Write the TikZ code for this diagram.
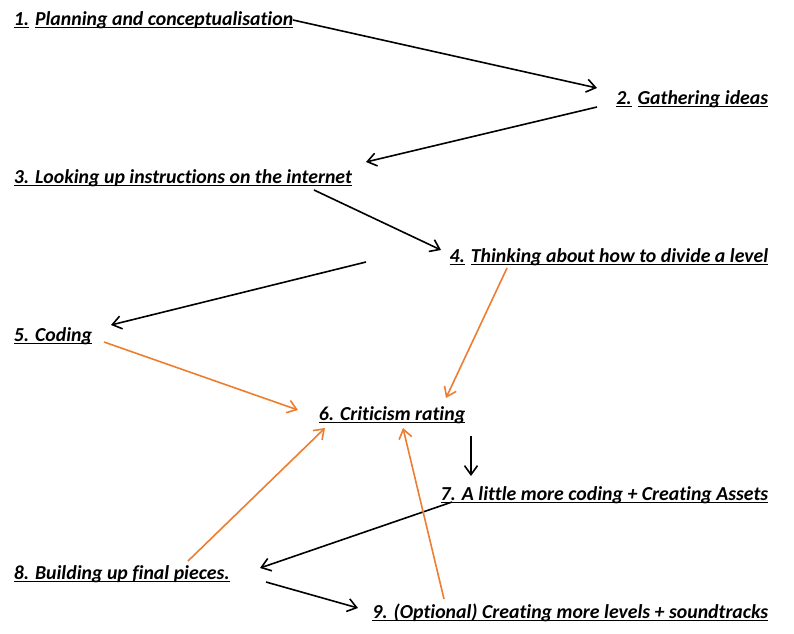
\documentclass[tikz,border=0pt]{standalone}
\usepackage{fontspec}
\setmainfont{Carlito}[Ligatures=NoCommon]
\usetikzlibrary{arrows.meta,calc}
\definecolor{steporange}{RGB}{237,125,49}
\newlength\ulwd
\newcommand\ulword[1]{\settowidth\ulwd{#1}\rlap{\rule[-3pt]{\ulwd}{1.3pt}}#1}
\begin{document}
\begin{tikzpicture}[x=1pt,y=-1pt,line width=1.6pt,
  >={Straight Barb[length=9pt,width=13pt]},
  font=\fontsize{19.8}{23}\selectfont\bfseries\itshape,
  stage/.style={inner sep=0pt},
  flow/.style={->,black},
  loop/.style={->,steporange}]
  \useasboundingbox (0,0) rectangle (794,633);
  % stages, left column anchored west, right column anchored east
  \node[stage,anchor=base west] (s1) at (13,25) {\ulword{1.} \ulword{Planning and conceptualisation}};
  \node[stage,anchor=base east] (s2) at (769,104) {\ulword{2.} \ulword{Gathering ideas}};
  \node[stage,anchor=base west] (s3) at (13,183) {\ulword{3. Looking up instructions on the internet}};
  \node[stage,anchor=base east] (s4) at (769,262) {\ulword{4.} \ulword{Thinking about how to divide a level}};
  \node[stage,anchor=base west] (s5) at (13,341) {\ulword{5. Coding}};
  \node[stage,anchor=base west] (s6) at (318,420) {\ulword{6. Criticism rating}};
  \node[stage,anchor=base east] (s7) at (769,500) {\ulword{7. A little more coding + Creating Assets}};
  \node[stage,anchor=base west] (s8) at (13,579) {\ulword{8. Building up final pieces.}};
  \node[stage,anchor=base east] (s9) at (769,618) {\ulword{9. (Optional) Creating more levels + soundtracks}};
  % main sequence
  \draw[flow] ($(s1.base west)+(280,-5)$) -- ($(s2.base east)+(-172,-16)$);
  \draw[flow] ($(s2.base east)+(-172,3)$) -- ($(s3.base west)+(353,-21)$);
  \draw[flow] ($(s3.base west)+(301,7)$) -- ($(s4.base east)+(-328,-12)$);
  \draw[flow] ($(s4.base east)+(-403,0)$) -- ($(s5.base west)+(98,-16)$);
  \draw[flow] ($(s6.base west)+(153,16)$) -- ($(s7.base east)+(-298,-24)$);
  \draw[flow] ($(s7.base east)+(-317,2)$) -- ($(s8.base west)+(247,-11)$);
  \draw[flow] ($(s8.base west)+(253,3)$) -- ($(s9.base east)+(-411,-10)$);
  % feedback into the rating
  \draw[loop] ($(s5.base west)+(91,1)$) -- ($(s6.base west)+(-20,-10)$);
  \draw[loop] ($(s4.base east)+(-262,6)$) -- ($(s6.base west)+(128,-22)$);
  \draw[loop] ($(s8.base west)+(175,-18)$) -- ($(s6.base west)+(7,8)$);
  \draw[loop] ($(s9.base east)+(-325,-19)$) -- ($(s6.base west)+(85,8)$);
\end{tikzpicture}
\end{document}
